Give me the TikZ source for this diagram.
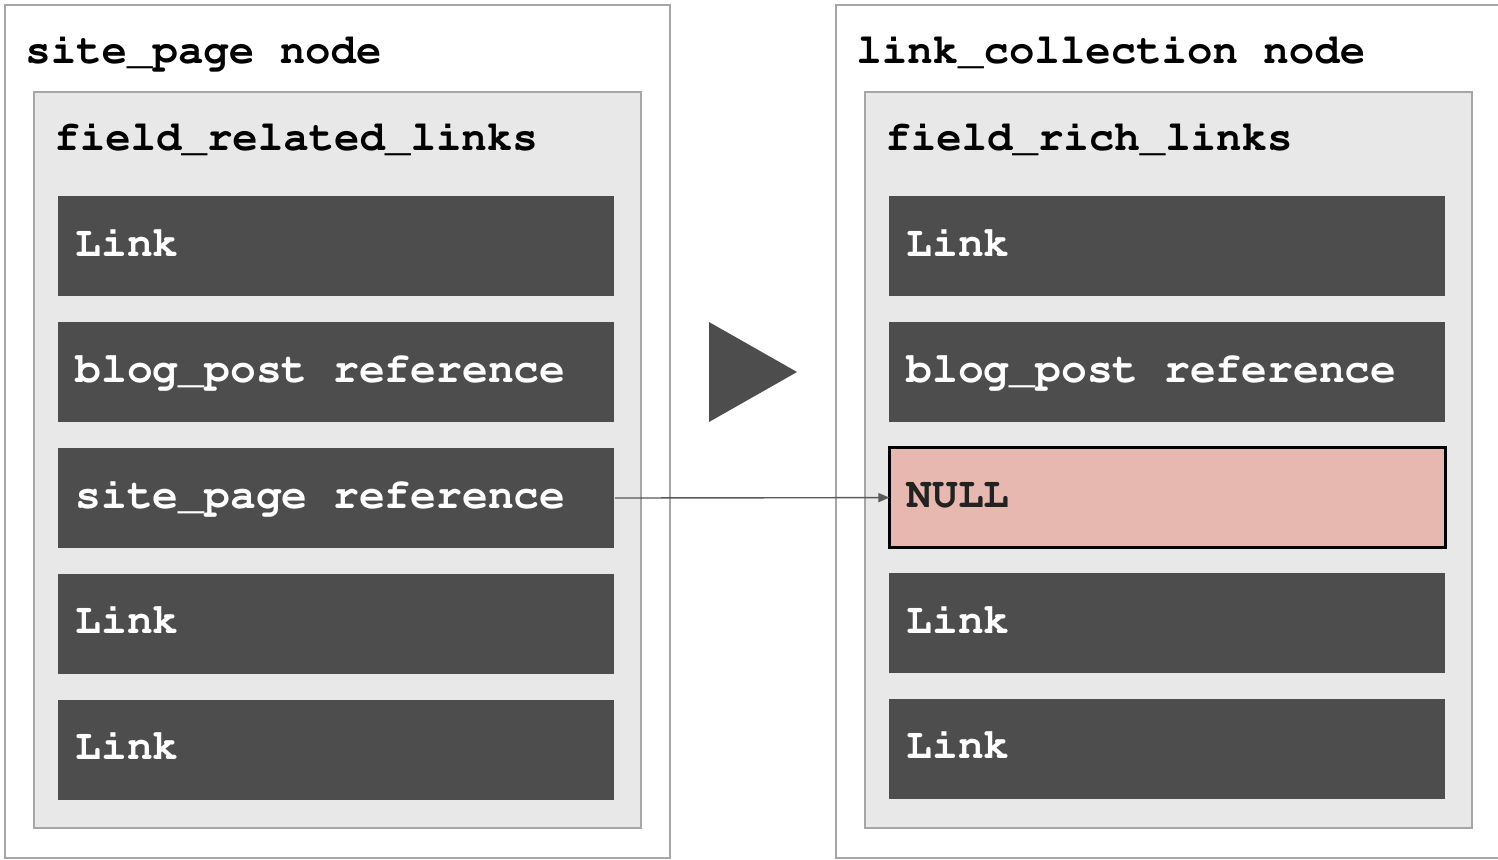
\documentclass[tikz,border=0pt]{standalone}
\usepackage[T1]{fontenc}
\usepackage{xcolor}
\renewcommand{\ttdefault}{pcr}
\usetikzlibrary{positioning,arrows.meta}

\definecolor{framegray}{HTML}{A6A6A6}
\definecolor{panelgray}{HTML}{E8E8E8}
\definecolor{itemgray}{HTML}{4D4D4D}
\definecolor{nullred}{HTML}{E6B8AF}
\definecolor{nulltext}{HTML}{222222}
\definecolor{linkgray}{HTML}{595959}

% left aligned text inside a list entry
\newcommand{\slottext}[1]{\makebox[261pt][l]{#1}}

\tikzset{
    title/.style={anchor=base west, inner sep=0pt, font=\fontsize{21.2}{24}\ttfamily\bfseries\selectfont},
    entry/.style={rectangle, fill=itemgray, text=white, minimum width=278pt, minimum height=50pt,
        inner xsep=8.5pt, inner ysep=0pt, text height=14pt, text depth=4pt,
        font=\fontsize{21.5}{24}\ttfamily\bfseries\selectfont},
    nullentry/.style={entry, fill=nullred, text=nulltext, draw=black, line width=1.5pt, outer sep=0pt},
}

\begin{document}
\begin{tikzpicture}[x=0.5pt, y=-0.5pt, node distance=12.5pt]
    \useasboundingbox (0,0) rectangle (1498,859);

    % outer frames
    \draw[framegray, line width=1pt] (5,5) rectangle (670,858);
    \draw[framegray, line width=1pt] (1500,5) -- (836,5) -- (836,858) -- (1500,858);

    % inner panels
    \draw[framegray, fill=panelgray, line width=1pt] (34,92) rectangle (641,828);
    \draw[framegray, fill=panelgray, line width=1pt] (865,92) rectangle (1472,828);

    \node[title] (sitetitle) at (25,63) {site\_page node};
    \node[title] (linktitle) at (856,63) {link\_collection node};
    \node[title] (relfield) at (54,150) {field\_related\_links};
    \node[title] (richfield) at (885,150) {field\_rich\_links};

    % left list
    \node[entry, anchor=north west] (l1) at (58,196) {\slottext{Link}};
    \node[entry, below=of l1] (l2) {\slottext{blog\_post reference}};
    \node[entry, below=of l2] (l3) {\slottext{site\_page reference}};
    \node[entry, below=of l3] (l4) {\slottext{Link}};
    \node[entry, below=of l4] (l5) {\slottext{Link}};

    % right list
    \node[entry, anchor=north west] (r1) at (889,196) {\slottext{Link}};
    \node[entry, below=of r1] (r2) {\slottext{blog\_post reference}};
    \node[nullentry, below=of r2] (r3) {\slottext{NULL}};
    \node[entry, below=of r3] (r4) {\slottext{Link}};
    \node[entry, below=of r4] (r5) {\slottext{Link}};

    % play marker
    \fill[itemgray] (709,322) -- (797,372) -- (709,422) -- cycle;

    \draw[-{Triangle[length=5.5pt,width=4.5pt]}, linkgray, line width=0.7pt] (l3.east) -- (r3.west);
\end{tikzpicture}
\end{document}
